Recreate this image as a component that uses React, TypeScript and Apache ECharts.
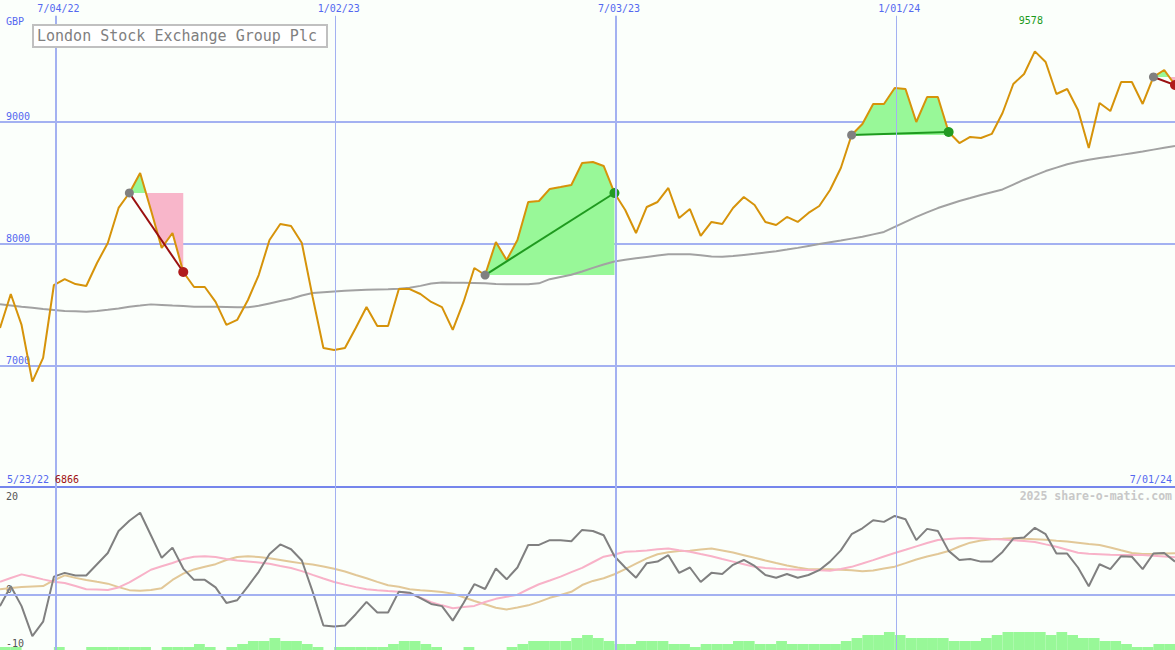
import React, { useEffect, useRef } from "react";
import * as echarts from "echarts";

// ---------- data ----------
const chartTitle = "London Stock Exchange Group Plc";
const currency = "GBP";
const watermark = "2025 share-o-matic.com";
const firstPointDate = "2022-05-29";
const rangeStartLabel = "5/23/22";
const rangeEndLabel = "7/01/24";
const dateLineDates = ["2022-07-04", "2023-01-02", "2023-07-03", "2024-01-01"];
const dateLineLabels = ["7/04/22", "1/02/23", "7/03/23", "1/01/24"];
const priceTicks = [7000, 8000, 9000];
const oscTicks = [-10, 0, 20];

// weekly closing prices
const prices = [
  7306, 7585, 7331, 6866, 7060, 7659, 7708, 7667, 7651, 7840,
  8004, 8292, 8415, 8579, 8275, 7963, 8086, 7766, 7643, 7643,
  7520, 7331, 7372, 7536, 7741, 8029, 8160, 8144, 8004, 7561,
  7142, 7125, 7142, 7306, 7478, 7322, 7322, 7626, 7626, 7585,
  7520, 7478, 7290, 7520, 7799, 7741, 8012, 7864, 8029, 8341,
  8349, 8448, 8464, 8481, 8661, 8669, 8637, 8415, 8275, 8086,
  8300, 8341, 8456, 8209, 8283, 8062, 8177, 8160, 8292, 8382,
  8316, 8177, 8152, 8218, 8177, 8251, 8308, 8439, 8620, 8891,
  8982, 9146, 9146, 9277, 9269, 8998, 9203, 9203, 8916, 8825,
  8875, 8867, 8900, 9072, 9310, 9392, 9578, 9491, 9228, 9269,
  9097, 8784, 9154, 9088, 9326, 9326, 9146, 9368, 9425, 9302,
];

// long moving average
const movingAvg = [
  7501, 7491, 7481, 7472, 7462, 7454, 7446, 7443, 7440, 7446,
  7455, 7466, 7481, 7490, 7500, 7495, 7490, 7486, 7481, 7481,
  7480, 7478, 7476, 7476, 7488, 7508, 7528, 7546, 7573, 7593,
  7600, 7606, 7611, 7616, 7620, 7622, 7624, 7628, 7637, 7652,
  7672, 7680, 7678, 7677, 7676, 7674, 7668, 7665, 7665, 7665,
  7673, 7707, 7725, 7743, 7770, 7800, 7828, 7852, 7866, 7879,
  7890, 7901, 7911, 7911, 7911, 7903, 7893, 7892, 7897, 7906,
  7915, 7926, 7937, 7950, 7964, 7980, 7995, 8011, 8025, 8040,
  8055, 8075, 8095, 8137, 8178, 8219, 8256, 8291, 8320, 8349,
  8373, 8398, 8421, 8444, 8484, 8524, 8560, 8595, 8623, 8651,
  8671, 8688, 8703, 8715, 8728, 8742, 8756, 8771, 8786, 8801,
];

// lower panel oscillator
const momentum = [
  -2.2, 1.5, -2.2, -7.8, -5.1, 3.3, 4.0, 3.5, 3.5, 5.6,
  7.7, 11.8, 13.7, 15.2, 11.0, 6.8, 8.7, 4.8, 2.7, 2.7,
  1.3, -1.6, -1.1, 1.5, 4.2, 7.5, 9.3, 8.4, 6.3, 0.5,
  -5.8, -6.0, -5.8, -3.7, -1.4, -3.4, -3.4, 0.5, 0.3, -0.7,
  -1.8, -2.2, -4.9, -1.6, 1.9, 1.0, 4.8, 2.8, 5.0, 9.2,
  9.2, 10.1, 10.1, 9.9, 12.0, 11.8, 11.0, 7.1, 5.0, 3.1,
  5.8, 6.1, 7.3, 4.0, 5.0, 2.3, 4.0, 3.8, 5.5, 6.4,
  5.3, 3.6, 3.1, 3.8, 3.1, 3.6, 4.5, 6.1, 8.2, 11.2,
  12.3, 13.8, 13.5, 14.6, 14.0, 10.1, 12.2, 11.8, 8.1, 6.4,
  6.6, 6.1, 6.1, 7.9, 10.4, 10.6, 12.4, 11.2, 7.6, 7.6,
  5.0, 1.5, 5.6, 4.7, 7.1, 7.0, 4.7, 7.6, 7.7, 6.1,
];

const signalFast = [
  2.35, 3.04, 3.72, 3.26, 2.79, 2.33, 2.10, 1.55, 0.95, 0.88,
  0.80, 1.28, 2.22, 3.41, 4.58, 5.23, 5.85, 6.57, 7.02, 7.08,
  6.95, 6.59, 6.31, 6.13, 5.92, 5.68, 5.29, 4.92, 4.32, 3.63,
  2.96, 2.31, 1.81, 1.34, 0.95, 0.74, 0.61, 0.50, 0.20, -0.63,
  -1.45, -2.05, -2.59, -2.38, -2.16, -1.43, -0.84, -0.47, -0.07, 0.95,
  1.88, 2.59, 3.31, 4.13, 4.93, 5.98, 7.02, 7.41, 7.95, 8.04,
  8.18, 8.38, 8.55, 8.23, 7.93, 7.50, 7.08, 6.57, 6.09, 5.61,
  5.12, 4.92, 4.77, 4.67, 4.60, 4.53, 4.47, 4.39, 4.73, 5.12,
  5.74, 6.37, 7.06, 7.71, 8.31, 8.94, 9.55, 10.13, 10.30, 10.43,
  10.50, 10.41, 10.32, 10.20, 10.07, 9.93, 9.76, 9.31, 8.88, 8.32,
  7.75, 7.58, 7.49, 7.36, 7.32, 7.32, 7.32, 7.21, 7.06, 6.89,
];

const signalSlow = [
  0.93, 1.17, 1.38, 1.47, 1.55, 2.63, 3.54, 3.07, 2.68, 2.33,
  1.99, 1.34, 0.78, 0.67, 0.80, 1.15, 2.68, 3.87, 4.64, 5.14,
  5.62, 6.39, 6.95, 7.11, 6.95, 6.72, 6.41, 6.09, 5.77, 5.55,
  5.20, 4.75, 4.25, 3.61, 3.00, 2.33, 1.68, 1.40, 0.95, 0.76,
  0.60, 0.43, 0.13, -0.54, -1.23, -1.86, -2.50, -2.81, -2.44, -2.05,
  -1.40, -0.65, -0.13, 0.47, 1.73, 2.50, 3.00, 3.74, 4.71, 5.72,
  6.70, 7.47, 7.84, 8.08, 8.12, 8.36, 8.53, 8.18, 7.78, 7.30,
  6.80, 6.31, 5.83, 5.38, 4.99, 4.66, 4.66, 4.66, 4.56, 4.47,
  4.28, 4.43, 4.80, 5.16, 5.81, 6.50, 7.04, 7.52, 8.06, 8.92,
  9.63, 10.02, 10.28, 10.35, 10.43, 10.35, 10.28, 10.15, 9.98, 9.83,
  9.63, 9.40, 9.18, 8.72, 8.21, 7.71, 7.52, 7.54, 7.60, 7.64,
];

// weekly volume level (one per week interval)
const volume = [
  1, 1, 0, 0, 0, 1, 0, 0, 1, 1,
  1, 1, 1, 1, 0, 1, 1, 1, 2, 1,
  0, 1, 2, 3, 3, 4, 3, 3, 2, 1,
  0, 1, 1, 1, 1, 1, 2, 3, 3, 2,
  1, 0, 0, 1, 0, 0, 0, 1, 2, 3,
  3, 3, 3, 4, 5, 4, 3, 2, 2, 3,
  3, 3, 2, 2, 1, 2, 2, 2, 3, 3,
  2, 2, 3, 2, 2, 2, 2, 2, 3, 4,
  5, 5, 6, 5, 4, 4, 4, 4, 3, 3,
  3, 4, 5, 6, 6, 6, 6, 5, 6, 5,
  4, 4, 3, 3, 2, 1, 1, 2, 2,
];

// trades: [entry week, exit week]
const trades = [
  [12, 17],
  [45, 57],
  [79, 88],
  [107, 109],
];

// ---------- styling ----------
const BG = "#fbfffb";
const GRID = "#a3b1f1";
const SEP = "#7586ec";
const BLUE = "#5468f0";
const MONO = '"DejaVu Sans Mono", monospace';
const FILL_UP = "#98f898";
const FILL_DOWN = "#f8b6ca";

const DAY = 86400000;
const weekOf = (d: string) => (Date.parse(d) - Date.parse(firstPointDate)) / (7 * DAY);
const lastIndex = prices.length - 1;
const PRICE_MIN = 6000;
const PRICE_MAX = 10000;
const LINE_TOP = 9870;

export default function App() {
  const ref = useRef<HTMLDivElement>(null);

  useEffect(() => {
    if (!ref.current) return;
    const chart = echarts.init(ref.current, undefined, { renderer: "svg" });

    const idxData = (arr: number[]) => arr.map((v, i) => [i, v]);
    const minPrice = Math.min(...prices);

    const fillItem = (params: any, api: any) => {
      const from = api.value(0);
      const to = api.value(1);
      const base = prices[from];
      const children: any[] = [];
      const poly = (pts: number[][], s: number) => ({
        type: "polygon",
        shape: { points: pts.map((p) => api.coord(p)) },
        style: { fill: s >= 0 ? FILL_UP : FILL_DOWN },
      });
      let run: number[][] = [[from, base]];
      let sign = 0;
      for (let i = from; i <= to; i++) {
        const d = prices[i] - base;
        const s = Math.sign(d);
        if (i > from) {
          const dp = prices[i - 1] - base;
          if (sign !== 0 && s !== 0 && s !== sign) {
            const t = dp / (dp - d);
            const xc = i - 1 + t;
            run.push([xc, base]);
            children.push(poly(run, sign));
            run = [[xc, base]];
          }
        }
        run.push([i, prices[i]]);
        if (s !== 0) sign = s;
      }
      run.push([to, base]);
      children.push(poly(run, sign));
      return { type: "group", children };
    };

    const markerItem = (params: any, api: any) => {
      const from = api.value(0);
      const to = api.value(1);
      const a = api.coord([from, prices[from]]);
      const b = api.coord([to, prices[to]]);
      const up = prices[to] >= prices[from];
      return {
        type: "group",
        children: [
          {
            type: "line",
            shape: { x1: a[0], y1: a[1], x2: b[0], y2: b[1] },
            style: { stroke: up ? "#1f9a1f" : "#9a1010", lineWidth: 2 },
          },
          { type: "circle", shape: { cx: a[0], cy: a[1], r: 4.5 }, style: { fill: "#808080" } },
          { type: "circle", shape: { cx: b[0], cy: b[1], r: 5 }, style: { fill: up ? "#229a22" : "#b01c1c" } },
        ],
      };
    };

    const vLinesTop = dateLineDates.map((d, j) => {
      const w = weekOf(d);
      const ls = { color: GRID, width: j % 2 === 0 ? 2 : 1, type: "solid" };
      return [
        { name: dateLineLabels[j], coord: [w, PRICE_MIN], lineStyle: ls },
        { name: dateLineLabels[j], coord: [w, LINE_TOP], lineStyle: ls },
      ];
    });
    const vLinesFull = dateLineDates.map((d, j) => ({
      xAxis: weekOf(d),
      lineStyle: { color: GRID, width: j % 2 === 0 ? 2 : 1, type: "solid" },
    }));

    const hiddenX = (gridIndex: number) => ({
      type: "value",
      gridIndex,
      min: 0,
      max: lastIndex,
      show: false,
    });

    const option: any = {
      animation: false,
      backgroundColor: BG,
      grid: [
        { left: 0, right: 0, top: 0, height: 487 },
        { left: 0, right: 0, top: 487, height: 161 },
        { left: 0, right: 0, top: 590, height: 60 },
      ],
      xAxis: [
        {
          type: "value",
          gridIndex: 0,
          min: 0,
          max: lastIndex,
          position: "bottom",
          axisLine: { show: true, onZero: false, lineStyle: { color: SEP, width: 2 } },
          axisTick: { show: false },
          axisLabel: { show: false },
          splitLine: { show: false },
        },
        hiddenX(1),
        hiddenX(2),
      ],
      yAxis: [
        {
          type: "value",
          gridIndex: 0,
          position: "left",
          min: PRICE_MIN,
          max: PRICE_MAX,
          interval: 1000,
          axisLine: { show: false },
          axisTick: { show: false },
          axisLabel: {
            inside: true,
            margin: 6,
            verticalAlign: "bottom",
            color: BLUE,
            fontSize: 10,
            fontFamily: MONO,
            formatter: (v: number) => (priceTicks.includes(v) ? String(v) : ""),
          },
          splitLine: { show: true, showMinLine: false, showMaxLine: false, lineStyle: { color: GRID, width: 2 } },
        },
        {
          type: "value",
          gridIndex: 1,
          position: "left",
          min: -10,
          max: 20,
          interval: 10,
          axisLine: { show: false },
          axisTick: { show: false },
          splitLine: { show: false },
          axisLabel: {
            inside: true,
            margin: 6,
            verticalAlign: "bottom",
            color: "#555555",
            fontSize: 10,
            fontFamily: MONO,
            formatter: (v: number) => (oscTicks.includes(v) && v < 20 ? String(v) : ""),
          },
        },
        {
          type: "value",
          gridIndex: 1,
          position: "left",
          offset: 0,
          min: -10,
          max: 20,
          interval: 10,
          axisLine: { show: false },
          axisTick: { show: false },
          splitLine: { show: false },
          axisLabel: {
            inside: true,
            margin: 6,
            verticalAlign: "top",
            padding: [4, 0, 0, 0],
            color: "#555555",
            fontSize: 10,
            fontFamily: MONO,
            formatter: (v: number) => (v === 20 ? String(v) : ""),
          },
        },
        { type: "value", gridIndex: 2, min: 0, max: 20, show: false },
      ],
      series: [
        {
          type: "custom",
          name: "tradeFill",
          xAxisIndex: 0,
          yAxisIndex: 0,
          z: 1,
          silent: true,
          data: trades,
          renderItem: fillItem,
        },
        {
          type: "line",
          name: "MA",
          xAxisIndex: 0,
          yAxisIndex: 0,
          z: 2,
          data: idxData(movingAvg),
          showSymbol: false,
          symbol: "none",
          lineStyle: { color: "#a2a2a2", width: 2 },
          markLine: {
            silent: true,
            symbol: ["none", "none"],
            label: {
              show: true,
              position: "end",
              distance: 2,
              offset: [3, 0],
              formatter: (p: any) => p.name,
              color: BLUE,
              fontSize: 10,
              fontFamily: MONO,
            },
            data: vLinesTop,
          },
        },
        {
          type: "line",
          name: "Price",
          xAxisIndex: 0,
          yAxisIndex: 0,
          z: 3,
          data: idxData(prices),
          showSymbol: false,
          symbol: "none",
          lineStyle: { color: "#d6930a", width: 2 },
          markPoint: {
            symbol: "circle",
            symbolSize: 0,
            data: [{ type: "max" }],
            label: {
              show: true,
              formatter: (p: any) => String(p.value),
              offset: [-4, -31],
              color: "#1a9a1a",
              fontSize: 10,
              fontFamily: MONO,
            },
          },
        },
        {
          type: "custom",
          name: "tradeMarks",
          xAxisIndex: 0,
          yAxisIndex: 0,
          z: 4,
          silent: true,
          data: trades,
          renderItem: markerItem,
        },
        {
          type: "line",
          name: "slow",
          xAxisIndex: 1,
          yAxisIndex: 1,
          z: 2,
          data: idxData(signalSlow),
          symbol: "none",
          lineStyle: { color: "#e2c898", width: 2 },
        },
        {
          type: "line",
          name: "fast",
          xAxisIndex: 1,
          yAxisIndex: 1,
          z: 2,
          data: idxData(signalFast),
          symbol: "none",
          lineStyle: { color: "#f8b2c8", width: 2 },
        },
        {
          type: "line",
          name: "momentum",
          xAxisIndex: 1,
          yAxisIndex: 1,
          z: 3,
          data: idxData(momentum),
          symbol: "none",
          lineStyle: { color: "#808080", width: 2 },
          markLine: {
            silent: true,
            symbol: ["none", "none"],
            label: { show: false },
            data: [{ yAxis: 0, lineStyle: { color: GRID, width: 2, type: "solid" } }, ...vLinesFull],
          },
        },
        {
          type: "line",
          name: "vlines",
          xAxisIndex: 2,
          yAxisIndex: 3,
          z: 1,
          data: [],
          markLine: {
            silent: true,
            symbol: ["none", "none"],
            label: { show: false },
            data: vLinesFull,
          },
        },
        {
          type: "bar",
          name: "volume",
          xAxisIndex: 2,
          yAxisIndex: 3,
          z: 3,
          barWidth: 10.8,
          data: volume.map((v, k) => [k + 0.5, v]),
          itemStyle: { color: "#98f898" },
        },
      ],
      graphic: [
        {
          type: "rect",
          z: 10,
          shape: { x: 33, y: 25, width: 294, height: 22 },
          style: { fill: "#ffffff", stroke: "#c0c0c0", lineWidth: 2 },
        },
        {
          type: "text",
          z: 11,
          x: 37,
          y: 36,
          style: { text: chartTitle, font: `15px ${MONO}`, fill: "#808080", align: "left", verticalAlign: "middle" },
        },
        {
          type: "text",
          z: 11,
          x: 6,
          y: 21,
          style: { text: currency, font: `10px ${MONO}`, fill: BLUE, align: "left", verticalAlign: "middle" },
        },
        {
          type: "text",
          z: 11,
          x: 7,
          y: 479,
          style: { text: rangeStartLabel, font: `10px ${MONO}`, fill: BLUE, align: "left", verticalAlign: "middle" },
        },
        {
          type: "text",
          z: 11,
          x: 55,
          y: 479,
          style: { text: String(minPrice), font: `10px ${MONO}`, fill: "#a01010", align: "left", verticalAlign: "middle" },
        },
        {
          type: "text",
          z: 11,
          x: 1172,
          y: 479,
          style: { text: rangeEndLabel, font: `10px ${MONO}`, fill: BLUE, align: "right", verticalAlign: "middle" },
        },
        {
          type: "text",
          z: 11,
          x: 1172,
          y: 496,
          style: {
            text: watermark,
            font: `bold 11.5px ${MONO}`,
            fill: "#c8c8c8",
            align: "right",
            verticalAlign: "middle",
          },
        },
      ],
    };

    chart.setOption(option);
    return () => chart.dispose();
  }, []);

  return (
    <div
      ref={ref}
      style={{ position: "fixed", left: 0, top: 0, width: 1175, height: 650, background: BG }}
    />
  );
}
